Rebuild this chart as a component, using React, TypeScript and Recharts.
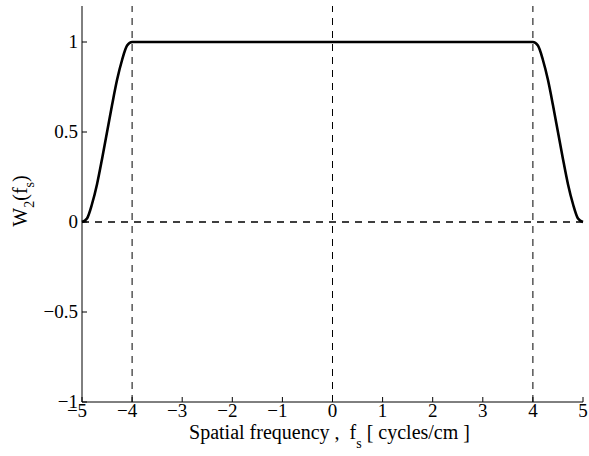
import { LineChart, Line, XAxis, YAxis, ReferenceLine } from 'recharts';

const freq = [-5, -4.9, -4.8, -4.7, -4.6, -4.5, -4.4, -4.3, -4.2, -4.1, -4, 0, 4, 4.1, 4.2, 4.3, 4.4, 4.5, 4.6, 4.7, 4.8, 4.9, 5];
const w2 = [0, 0.02, 0.1, 0.21, 0.35, 0.5, 0.65, 0.79, 0.9, 0.98, 1, 1, 1, 0.98, 0.9, 0.79, 0.65, 0.5, 0.35, 0.21, 0.1, 0.02, 0];
const xTicks = [-5, -4, -3, -2, -1, 0, 1, 2, 3, 4, 5];
const yTicks = [-1, -0.5, 0, 0.5, 1];
const dashedX = [-4, 0, 4];

const data = freq.map((f, i) => ({ f, w: w2[i] }));

const serif = { fontFamily: 'Liberation Serif, Times New Roman, serif' };
const TICK = 5;
const fmt = (v: number) => String(v).replace('-', '\u2212');

// MATLAB centres the digits on the tick, the minus sign hangs to the left
const BottomTick = ({ x, y, payload }: any) => (
  <g>
    <line x1={x} x2={x} y1={y - 15} y2={y - 15 - TICK} stroke="#000" strokeWidth={1} />
    <text x={payload.value < 0 ? x - 5 : x} y={y} textAnchor="middle" style={serif} fontSize={19} fill="#000">
      {fmt(payload.value)}
    </text>
  </g>
);

const LeftTick = ({ x, y, payload }: any) => (
  <g>
    <line x1={x + 4} x2={x + 4 + TICK} y1={y} y2={y} stroke="#000" strokeWidth={1} />
    <text x={x} y={y + 6} textAnchor="end" style={serif} fontSize={19} fill="#000">
      {fmt(payload.value)}
    </text>
  </g>
);

const TopTick = ({ x, y }: any) => (
  <line x1={x} x2={x} y1={y} y2={y + TICK} stroke="#000" strokeWidth={1} />
);

const RightTick = ({ x, y }: any) => (
  <line x1={x} x2={x - TICK} y1={y} y2={y} stroke="#000" strokeWidth={1} />
);

const XLabel = ({ viewBox }: any) => (
  <text
    x={viewBox.x + viewBox.width / 2 - 3}
    y={439}
    textAnchor="middle"
    fontSize={20}
    fill="#000"
    style={{ ...serif, whiteSpace: 'pre' }}
  >
    {'Spatial frequency ,  f'}
    <tspan dy={9} fontSize={14}>s</tspan>
    <tspan dy={-9}>{' [ cycles/cm ]'}</tspan>
  </text>
);

const YLabel = () => (
  <text
    x={27}
    y={201}
    transform="rotate(-90 27 201)"
    textAnchor="middle"
    style={serif}
    fontSize={20}
    fill="#000"
  >
    W
    <tspan dy={7} fontSize={14}>2</tspan>
    <tspan dy={-7}>(f</tspan>
    <tspan dy={7} fontSize={14}>s</tspan>
    <tspan dy={-7}>)</tspan>
  </text>
);

export default function App() {
  return (
    <div style={{ position: 'absolute', left: 0, top: 0, width: 589, height: 456, background: '#fff' }}>
      <LineChart width={589} height={456} data={data} margin={{ top: 6, right: 6, left: 0, bottom: 0 }}>
        <XAxis
          dataKey="f"
          type="number"
          domain={[-5, 5]}
          ticks={xTicks}
          interval={0}
          height={54}
          stroke="#000"
          tickSize={0}
          tickMargin={15}
          tick={<BottomTick />}
          label={<XLabel />}
        />
        <XAxis
          xAxisId="top"
          orientation="top"
          type="number"
          domain={[-5, 5]}
          ticks={xTicks}
          interval={0}
          height={0}
          stroke="#000"
          tickSize={0}
          tickMargin={0}
          tick={<TopTick />}
        />
        <YAxis
          type="number"
          domain={[-1, 1.2]}
          ticks={yTicks}
          interval={0}
          width={82}
          stroke="#000"
          tickSize={0}
          tickMargin={4}
          tick={<LeftTick />}
          allowDataOverflow
        />
        <YAxis
          yAxisId="right"
          orientation="right"
          type="number"
          domain={[-1, 1.2]}
          ticks={yTicks}
          interval={0}
          width={0}
          stroke="#000"
          tickSize={0}
          tickMargin={0}
          tick={<RightTick />}
          allowDataOverflow
        />
        {dashedX.map((v) => (
          <ReferenceLine key={v} x={v} stroke="#000" strokeWidth={1} strokeDasharray="7 6" />
        ))}
        <ReferenceLine y={0} stroke="#000" strokeWidth={1.3} strokeDasharray="7 6" />
        <Line
          type="monotone"
          dataKey="w"
          stroke="#000"
          strokeWidth={2.6}
          dot={false}
          isAnimationActive={false}
        />
      </LineChart>
      <svg width={589} height={456} style={{ position: 'absolute', left: 0, top: 0, pointerEvents: 'none' }}>
        <YLabel />
      </svg>
    </div>
  );
}
